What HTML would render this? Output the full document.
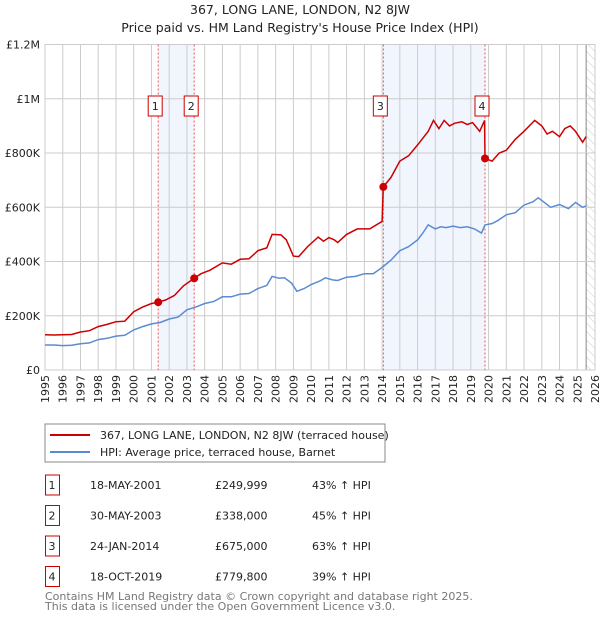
<!DOCTYPE html>
<html><head><meta charset="utf-8"><style>
body{margin:0;background:#fff;font-family:"DejaVu Sans","Liberation Sans",sans-serif;}
svg text{font-family:"DejaVu Sans","Liberation Sans",sans-serif;}
</style></head><body>
<svg id="c" width="600" height="620" xmlns="http://www.w3.org/2000/svg">
<defs><pattern id="hatch" width="6" height="6" patternUnits="userSpaceOnUse" patternTransform="rotate(-45)"><line x1="0" y1="0" x2="0" y2="6" stroke="#ccc" stroke-width="1"/></pattern></defs>
<text x="300" y="14" text-anchor="middle" font-size="12.5" fill="#222">367, LONG LANE, LONDON, N2 8JW</text>
<text x="300" y="32" text-anchor="middle" font-size="12.5" fill="#222">Price paid vs. HM Land Registry's House Price Index (HPI)</text>
<g id="plot"></g>
<rect x="45" y="424" width="340" height="38" fill="#fff" stroke="#888"/>
<line x1="50" y1="435" x2="90" y2="435" stroke="#cc0000" stroke-width="2"/>
<text x="100" y="439" font-size="11" fill="#222">367, LONG LANE, LONDON, N2 8JW (terraced house)</text>
<line x1="50" y1="452" x2="90" y2="452" stroke="#5b8bd0" stroke-width="2"/>
<text x="100" y="456" font-size="11" fill="#222">HPI: Average price, terraced house, Barnet</text>
<g id="tbl"></g>
<text x="45" y="600" font-size="11" fill="#777">Contains HM Land Registry data © Crown copyright and database right 2025.</text>
<text x="45" y="610" font-size="11" fill="#777">This data is licensed under the Open Government Licence v3.0.</text>
</svg>
<script>
const yearTicks=[1995,1996,1997,1998,1999,2000,2001,2002,2003,2004,2005,2006,2007,2008,2009,2010,2011,2012,2013,2014,2015,2016,2017,2018,2019,2020,2021,2022,2023,2024,2025,2026];
const valueTicks=[0,200000,400000,600000,800000,1000000,1200000];
const valueTickLabels=["£0","£200K","£400K","£600K","£800K","£1M","£1.2M"];
const hpiDates=[1995,1995.5,1996,1996.5,1997,1997.5,1998,1998.5,1999,1999.5,2000,2000.5,2001,2001.5,2002,2002.5,2003,2003.5,2004,2004.5,2005,2005.5,2006,2006.5,2007,2007.5,2007.8,2008.2,2008.5,2008.9,2009.2,2009.6,2010,2010.5,2010.8,2011.2,2011.5,2012,2012.5,2013,2013.5,2014,2014.5,2015,2015.5,2016,2016.3,2016.6,2017,2017.3,2017.6,2018,2018.4,2018.8,2019.2,2019.6,2019.8,2020.2,2020.5,2021,2021.5,2022,2022.5,2022.8,2023.2,2023.5,2024,2024.5,2024.9,2025.3,2025.5];
const hpiValues=[92,92,90,91,97,100,112,117,125,128,148,160,170,175,188,195,222,232,245,252,270,270,280,282,300,312,345,338,340,320,290,300,315,328,340,332,330,342,345,355,355,378,405,440,455,480,505,535,520,528,525,530,525,528,520,505,535,540,550,572,580,608,620,635,615,600,610,595,618,600,605];
const priceDates=[1995,1995.5,1996,1996.5,1997,1997.5,1998,1998.5,1999,1999.5,2000,2000.5,2001,2001.38,2001.8,2002.3,2002.8,2003.41,2003.8,2004.3,2005,2005.5,2006,2006.5,2007,2007.5,2007.8,2008.3,2008.6,2009,2009.3,2009.8,2010.4,2010.7,2011,2011.3,2011.5,2012,2012.6,2013.3,2014,2014.07,2014.5,2015,2015.5,2016,2016.6,2016.9,2017.2,2017.5,2017.8,2018.1,2018.5,2018.8,2019.1,2019.5,2019.78,2019.8,2020.2,2020.6,2021,2021.5,2022,2022.6,2023,2023.3,2023.6,2024,2024.3,2024.6,2024.9,2025.3,2025.5];
const priceValues=[130,129,130,131,140,145,160,168,178,180,215,232,245,250,258,275,310,338,355,368,395,390,408,410,440,450,500,498,480,420,418,455,490,475,488,480,470,500,520,520,548,675,710,770,790,830,880,920,890,920,900,910,915,905,912,880,920,780,770,800,810,850,880,920,900,870,880,860,890,900,880,840,860];
const saleLabels=["1","2","3","4"];
const saleDates=[2001.38,2003.41,2014.07,2019.8];
const salePrices=[249999,338000,675000,779800];
const saleDateText=["18-MAY-2001","30-MAY-2003","24-JAN-2014","18-OCT-2019"];
const salePriceText=["£249,999","£338,000","£675,000","£779,800"];
const saleHpiText=["43% ↑ HPI","45% ↑ HPI","63% ↑ HPI","39% ↑ HPI"];
const NS="http://www.w3.org/2000/svg";
const X0=45,X1=595,Y0=370,Y1=44.5;
const xs=t=>X0+(t-1995)/(2026-1995)*(X1-X0);
const ys=v=>Y0-v/1200000*(Y0-Y1);
const plot=document.getElementById('plot');
function mk(tag,at,parent){const e=document.createElementNS(NS,tag);for(const k in at)e.setAttribute(k,at[k]);(parent||plot).appendChild(e);return e;}
for(const [a,b] of [[0,1],[2,3]]){
 const r=mk('rect',{x:xs(saleDates[a]),y:Y1,width:xs(saleDates[b])-xs(saleDates[a]),height:Y0-Y1,fill:'#eef3fd',opacity:0.8});
 
 
}
const hs=mk('rect',{x:xs(2025.5),y:Y1,width:X1-xs(2025.5),height:Y0-Y1,fill:'url(#hatch)'});


mk('line',{x1:xs(2025.5),y1:Y1,x2:xs(2025.5),y2:Y0,stroke:'#888','stroke-width':1});
yearTicks.forEach(t=>{
 mk('line',{x1:xs(t),y1:Y1,x2:xs(t),y2:Y0,stroke:'#ccc','stroke-width':1});
 const tx=mk('text',{x:0,y:0,transform:`translate(${xs(t)+4},${Y0+5}) rotate(-90)`,'text-anchor':'end','font-size':11,fill:'#222'});
 tx.textContent=t;
 
 
});
valueTicks.forEach((v,i)=>{
 mk('line',{x1:X0,y1:ys(v),x2:X1,y2:ys(v),stroke:'#ccc','stroke-width':1});
 const tx=mk('text',{x:X0-5,y:ys(v)+4,'text-anchor':'end','font-size':11,fill:'#222'});
 tx.textContent=valueTickLabels[i];
 
 
});
mk('rect',{x:X0,y:Y1,width:X1-X0,height:Y0-Y1,fill:'none',stroke:'#ccc'});
saleDates.forEach(d=>{mk('line',{x1:xs(d),y1:Y1,x2:xs(d),y2:Y0,stroke:'#e55','stroke-width':1,'stroke-dasharray':'2,2'});});
const pts=(D,V)=>D.map((d,i)=>xs(d).toFixed(1)+','+ys(V[i]*1000).toFixed(1)).join(' ');
const hl=mk('polyline',{points:pts(hpiDates,hpiValues),fill:'none',stroke:'#5b8bd0','stroke-width':1.5});


const pl=mk('polyline',{points:pts(priceDates,priceValues),fill:'none',stroke:'#cc0000','stroke-width':1.5});


saleDates.forEach((d,i)=>{
 const c=mk('circle',{cx:xs(d),cy:ys(salePrices[i]),r:4,fill:'#cc0000'});
 
 
 const g=mk('g',{});
 
 
 mk('rect',{x:xs(d)-10,y:96,width:14,height:20,fill:'#fff',stroke:'#cc0000'},g);
 const t=mk('text',{x:xs(d)-3,y:110,'text-anchor':'middle','font-size':11,fill:'#222'},g);
 t.textContent=saleLabels[i];
});
const tbl=document.getElementById('tbl');
saleLabels.forEach((l,i)=>{
 const y=483+i*30.5;
 const row=mk('g',{},tbl);
 
 
 mk('rect',{x:45.5,y:y-8,width:14,height:20,fill:'#fff',stroke:'#cc0000'},row);
 const cells=[[52,l,'middle'],[90,saleDateText[i],'start'],[215,salePriceText[i],'start'],[312,saleHpiText[i],'start']];
 cells.forEach(([x,s,a])=>{const t=mk('text',{x:x,y:y+6,'font-size':11,fill:'#222','text-anchor':a},row);t.textContent=s;});
});
</script>
</body></html>
